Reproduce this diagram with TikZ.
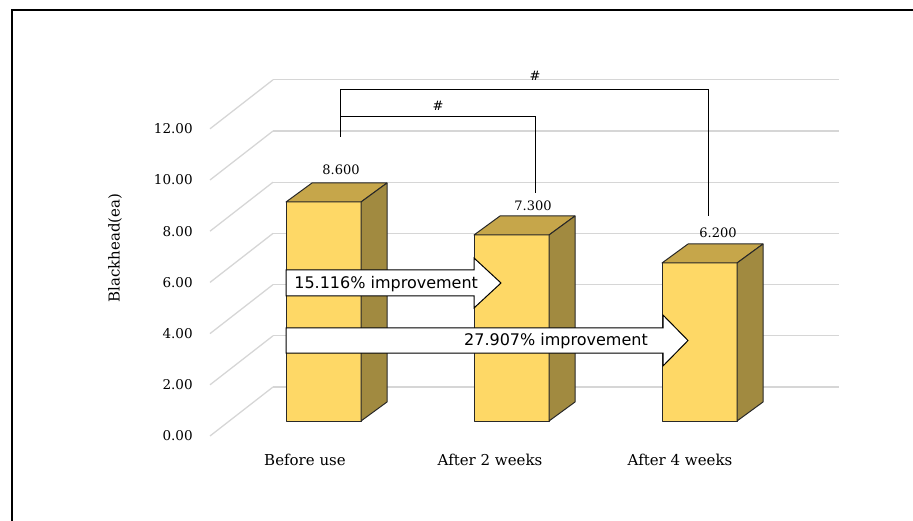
\documentclass[tikz,border=0pt]{standalone}
\usepackage{fontspec}
\setmainfont{DejaVu Serif}
\newfontfamily\arrowfont{DejaVu Sans}

\definecolor{barFront}{RGB}{254,216,102}
\definecolor{barTop}{RGB}{198,166,74}
\definecolor{barSide}{RGB}{161,138,64}
\definecolor{gridGray}{RGB}{214,214,214}
\definecolor{edgeGray}{RGB}{40,40,40}

\tikzset{every picture/.style={line width=0.75pt}}
\tikzset{
  gridline/.style={draw=gridGray, line width=1.3pt},
  barfront/.style={draw=edgeGray, fill=barFront, line width=1pt, line join=round},
  bartop/.style={draw=edgeGray, fill=barTop, line width=1pt, line join=round},
  barside/.style={draw=edgeGray, fill=barSide, line width=1pt, line join=round},
  gainarrow/.style={draw=black, fill=white, line width=1pt, line join=miter},
  bracketline/.style={draw=black, line width=1pt},
  ticklabel/.style={anchor=east, inner sep=0pt, font=\fontsize{13.5}{15}\selectfont},
  valuelabel/.style={inner sep=0pt, font=\fontsize{13}{15}\selectfont},
  catlabel/.style={inner sep=0pt, font=\fontsize{15}{18}\selectfont},
  gainlabel/.style={inner sep=0pt, font=\arrowfont\fontsize{16}{18}\selectfont}
}

\begin{document}
\begin{tikzpicture}[x=1pt,y=1pt,yscale=-1,xscale=1]
\useasboundingbox (0,0) rectangle (913,521);

%Frame
\draw [line width=2pt]  (12,521) -- (12,10) -- (913,10) ;

%Grid: back lines
\draw [gridline]  (273,387) -- (839,387) ;
\draw [gridline]  (273,335.8) -- (839,335.8) ;
\draw [gridline]  (273,284.6) -- (839,284.6) ;
\draw [gridline]  (273,233.4) -- (839,233.4) ;
\draw [gridline]  (273,182.2) -- (839,182.2) ;
\draw [gridline]  (273,131) -- (839,131) ;
\draw [gridline]  (273,79.8) -- (839,79.8) ;
%Grid: side wall
\draw [gridline]  (210,436) -- (273,387) ;
\draw [gridline]  (210,384.8) -- (273,335.8) ;
\draw [gridline]  (210,333.6) -- (273,284.6) ;
\draw [gridline]  (210,282.4) -- (273,233.4) ;
\draw [gridline]  (210,231.2) -- (273,182.2) ;
\draw [gridline]  (210,180) -- (273,131) ;
\draw [gridline]  (210,128.8) -- (273,79.8) ;

% Tick labels
\node [ticklabel] (t0) at (193,436) {0.00};
\node [ticklabel] (t2) at (193,384.8) {2.00};
\node [ticklabel] (t4) at (193,333.6) {4.00};
\node [ticklabel] (t6) at (193,282.4) {6.00};
\node [ticklabel] (t8) at (193,231.2) {8.00};
\node [ticklabel] (t10) at (193,180) {10.00};
\node [ticklabel] (t12) at (193,128.8) {12.00};

% Axis title
\node [catlabel, rotate=90, font=\fontsize{15}{17}\selectfont] (ytitle) at (115,248) {Blackhead(ea)};

%Bar: Before use
\draw [barfront]  (286,202) rectangle (361,421) ;
\draw [bartop]  (286,202) -- (312,183) -- (387,183) -- (361,202) -- cycle ;
\draw [barside]  (361,202) -- (387,183) -- (387,402) -- (361,421) -- cycle ;
%Bar: After 2 weeks
\draw [barfront]  (474,235) rectangle (549,421) ;
\draw [bartop]  (474,235) -- (500,216) -- (575,216) -- (549,235) -- cycle ;
\draw [barside]  (549,235) -- (575,216) -- (575,402) -- (549,421) -- cycle ;
%Bar: After 4 weeks
\draw [barfront]  (662,263) rectangle (737,421) ;
\draw [bartop]  (662,263) -- (688,244) -- (763,244) -- (737,263) -- cycle ;
\draw [barside]  (737,263) -- (763,244) -- (763,402) -- (737,421) -- cycle ;

% Value labels
\node [valuelabel] (v1) at (341,170) {8.600};
\node [valuelabel] (v2) at (533,205.5) {7.300};
\node [valuelabel] (v3) at (718,233) {6.200};

% Category labels
\node [catlabel] (c1) at (305,460) {Before use};
\node [catlabel] (c2) at (490,460) {After 2 weeks};
\node [catlabel] (c3) at (680,460) {After 4 weeks};

%Improvement arrows
\draw [gainarrow]  (286,270) -- (474,270) -- (474,258) -- (501,283) -- (474,308) -- (474,296) -- (286,296) -- cycle ;
\draw [gainarrow]  (286,328) -- (663,328) -- (663,315) -- (688,340.5) -- (663,366) -- (663,353) -- (286,353) -- cycle ;
\node [gainlabel, anchor=west] (g1) at (294,284) {15.116\% improvement};
\node [gainlabel] (g2) at (556,341.5) {27.907\% improvement};

%Significance brackets
\coordinate (s0) at (340,137);
\coordinate (s1) at (535,193);
\coordinate (s2) at (708,216);
\draw [bracketline]  (s0) -- (340,117) -- (535,117) -- (s1) ;
\draw [bracketline]  (340,117) -- (340,90) -- (708,90) -- (s2) ;
\node [valuelabel] (h1) at (438,106) {\#};
\node [valuelabel] (h2) at (535,76) {\#};
\end{tikzpicture}
\end{document}
